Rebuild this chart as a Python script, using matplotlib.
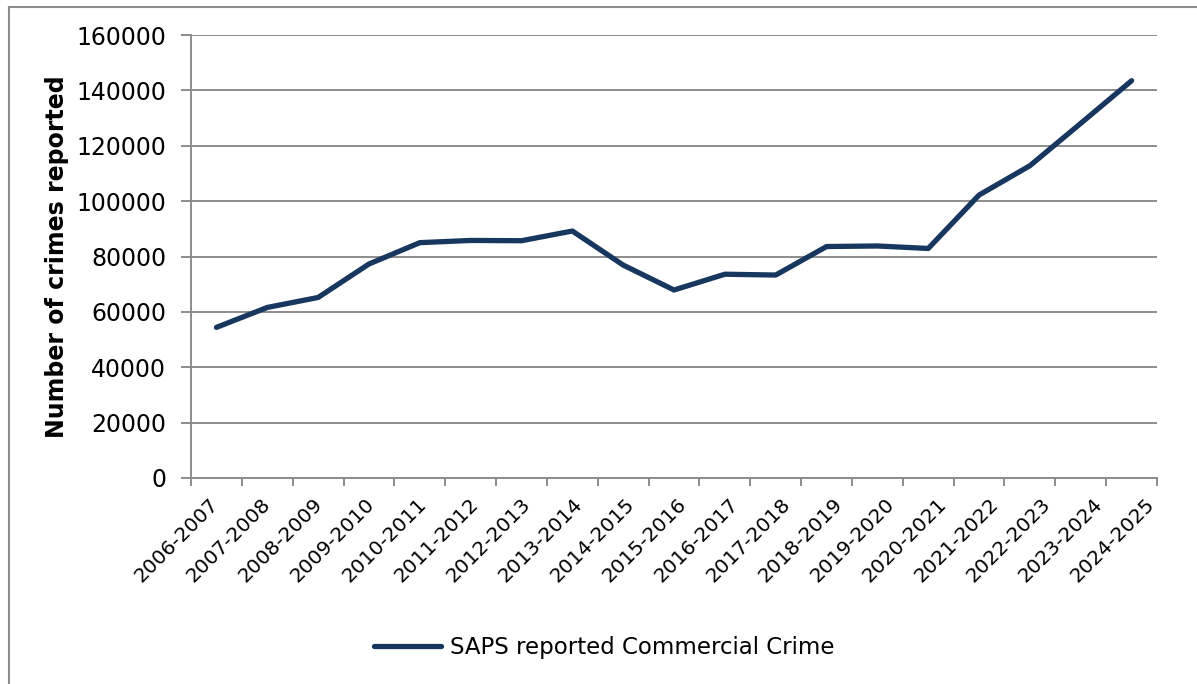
import matplotlib.pyplot as plt
import numpy as np
from matplotlib.lines import Line2D
from matplotlib.transforms import ScaledTranslation

# data
years = ['2006-2007', '2007-2008', '2008-2009', '2009-2010', '2010-2011',
         '2011-2012', '2012-2013', '2013-2014', '2014-2015', '2015-2016',
         '2016-2017', '2017-2018', '2018-2019', '2019-2020', '2020-2021',
         '2021-2022', '2022-2023', '2023-2024', '2024-2025']
crimes = [54400, 61600, 65200, 77300, 85000, 85800, 85700, 89200, 76900, 67900,
          73600, 73300, 83600, 83800, 82900, 102200, 112800, 128100, 143500]

line_color = '#17375e'
grid_color = '#8c8c8c'

fig = plt.figure(figsize=(11.97, 6.84), dpi=100)
ax = fig.add_axes([0.1596, 0.3012, 0.8070, 0.6476])

x = np.arange(len(years))
ax.plot(x, crimes, color=line_color, lw=3.8, solid_capstyle='round',
        solid_joinstyle='round', label='SAPS reported Commercial Crime')

# axes / grid
ax.set_xlim(-0.5, len(years) - 0.5)
ax.set_ylim(0, 160000)
ax.set_yticks(np.arange(0, 160001, 20000))
ax.yaxis.grid(True, color=grid_color, lw=1.4)
ax.set_axisbelow(True)
for s in ['top', 'right']:
    ax.spines[s].set_visible(False)
for s in ['left', 'bottom']:
    ax.spines[s].set_color(grid_color)
    ax.spines[s].set_linewidth(1.4)

# category ticks on boundaries, labels at centres
ax.set_xticks(np.arange(-0.5, len(years) + 0.5, 1))
ax.set_xticklabels([])
ax.set_xticks(x, minor=True)
ax.set_xticklabels(years, minor=True, rotation=45, ha='right', va='top',
                   rotation_mode='anchor', fontsize=14.5)
ax.tick_params(axis='x', which='minor', length=0, pad=12)
ax.tick_params(axis='x', which='major', length=6, color=grid_color, width=1.4)
ax.tick_params(axis='y', length=7, color=grid_color, width=1.4, labelsize=17, pad=11)
# labels in the original drift slightly right along the axis
for i, lbl in enumerate(ax.get_xticklabels(minor=True)):
    shift = ScaledTranslation((-8 + 1.2 * i) / 100, 0, fig.dpi_scale_trans)
    lbl.set_transform(lbl.get_transform() + shift)

ax.set_ylabel('Number of crimes reported', fontsize=17, fontweight='bold', labelpad=5)

fig.legend(loc='center', bbox_to_anchor=(0.505, 0.053), frameon=False,
           fontsize=16.5, handlelength=2.9, handletextpad=0.4)

# outer border (top and left only visible)
fig.add_artist(Line2D([9/1197, 1.0], [1 - 6.5/684, 1 - 6.5/684], color=grid_color,
                      lw=1.5, transform=fig.transFigure))
fig.add_artist(Line2D([9/1197, 9/1197], [0, 1 - 6.5/684], color=grid_color,
                      lw=1.5, transform=fig.transFigure))

fig.savefig('out.png', dpi=100)
